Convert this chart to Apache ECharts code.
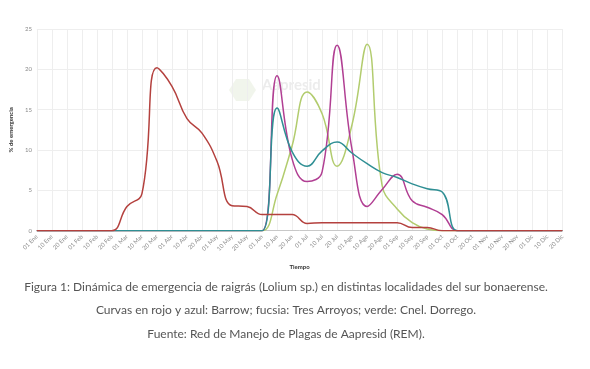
<!DOCTYPE html>
<html><head><meta charset="utf-8">
<script src="https://cdn.jsdelivr.net/npm/echarts@6/dist/echarts.min.js"></script>
<style>html,body{margin:0;padding:0;background:#fff}#c{width:590px;height:369px}</style>
</head><body><div id="c"></div>
<script>
const categories = ['01 Ene','10 Ene','20 Ene','01 Feb','10 Feb','20 Feb','01 Mar','10 Mar','20 Mar','01 Abr','10 Abr','20 Abr','01 May','10 May','20 May','01 Jun','10 Jun','20 Jun','01 Jul','10 Jul','20 Jul','01 Ago','10 Ago','20 Ago','01 Sep','10 Sep','20 Sep','01 Oct','10 Oct','20 Oct','01 Nov','10 Nov','20 Nov','01 Dic','10 Dic','20 Dic'];
const barrowRojo = [0,0,0,0,0,0,3.0,4.6,20.2,17.9,13.9,12.1,8.6,3.1,3.0,2.0,2.0,2.0,0.9,1.0,1.0,1.0,1.0,1.0,1.0,0.4,0.4,0,0,0,0,0,0,0,0,0];
const barrowAzul = [0,0,0,0,0,0,0,0,0,0,0,0,0,0,0,0,15.2,9.8,8.0,9.9,11.0,9.6,8.3,7.2,6.6,5.8,5.2,4.8,0,0,0,0,0,0,0,0];
const tresArroyos = [0,0,0,0,0,0,0,0,0,0,0,0,0,0,0,0,19.2,8.9,6.1,7.3,23.0,10.0,3.0,5.1,7.0,3.7,2.9,2.0,0,0,0,0,0,0,0,0];
const cnelDorrego = [0,0,0,0,0,0,0,0,0,0,0,0,0,0,0,0,4.5,10.5,17.2,14.5,8.0,13.2,23.1,5.6,2.7,1.0,0.2,0,0,0,0,0,0,0,0,0];
const yTicks = [0,5,10,15,20,25];
const captionLines = [
  'Figura 1: Dinámica de emergencia de raigrás (Lolium sp.) en distintas localidades del sur bonaerense.',
  'Curvas en rojo y azul: Barrow; fucsia: Tres Arroyos; verde: Cnel. Dorrego.',
  'Fuente: Red de Manejo de Plagas de Aapresid (REM).'
];

const chart = echarts.init(document.getElementById('c'), null, {renderer:'canvas'});
function line(name, data, color, z) {
  return {name, type:'line', data, smooth:0.45, symbol:'none', z,
    lineStyle:{color, width:1.5}, itemStyle:{color}};
}
function caption(text, y) {
  return {type:'text', x:286, y, style:{text, font:'12px Lato', fill:'#555', textAlign:'center', textVerticalAlign:'middle'}};
}
chart.setOption({
  animation:false,
  backgroundColor:'#fff',
  grid:{left:33.5, right:27.7, top:29, bottom:138.3, containLabel:false},
  xAxis:{
    type:'category', data:categories, boundaryGap:false,
    axisLine:{lineStyle:{color:'#c8c8c8'}},
    axisTick:{show:false},
    axisLabel:{rotate:45, fontSize:6, color:'#8a8a8a', margin:5, interval:0, fontFamily:'Lato'},
    splitLine:{show:true, lineStyle:{color:'#eeeeee', width:1}},
    name:'Tiempo', nameLocation:'middle', nameGap:33,
    nameTextStyle:{fontSize:6, fontWeight:'bold', color:'#333', fontFamily:'Lato'}
  },
  yAxis:{
    type:'value', min:yTicks[0], max:yTicks[yTicks.length-1], interval:5,
    axisLine:{show:false}, axisTick:{show:false},
    axisLabel:{fontSize:6, color:'#8a8a8a', margin:5, fontFamily:'Lato'},
    splitLine:{lineStyle:{color:'#eeeeee', width:1}},
    name:'% de emergencia', nameLocation:'middle', nameGap:21,
    nameTextStyle:{fontSize:6, fontWeight:'bold', color:'#333', fontFamily:'Lato'}
  },
  graphic:[
    {type:'polygon', z:0, shape:{points:[[236,79],[249,79],[256,90],[249,101],[236,101],[229,90]]}, style:{fill:'rgba(180,200,150,0.18)'}},
    {type:'text', z:0, left:262, top:78, style:{text:'Aapresid', font:'bold 15px Lato', fill:'rgba(200,200,200,0.35)'}},
    caption(captionLines[0], 287),
    caption(captionLines[1], 310.5),
    caption(captionLines[2], 334)
  ],
  series:[
    line('Cnel. Dorrego', cnelDorrego, '#b2cc6e', 2),
    line('Tres Arroyos', tresArroyos, '#b13f93', 3),
    line('Barrow (azul)', barrowAzul, '#2f8f94', 4),
    line('Barrow (rojo)', barrowRojo, '#b4413e', 5)
  ]
});
</script></body></html>
